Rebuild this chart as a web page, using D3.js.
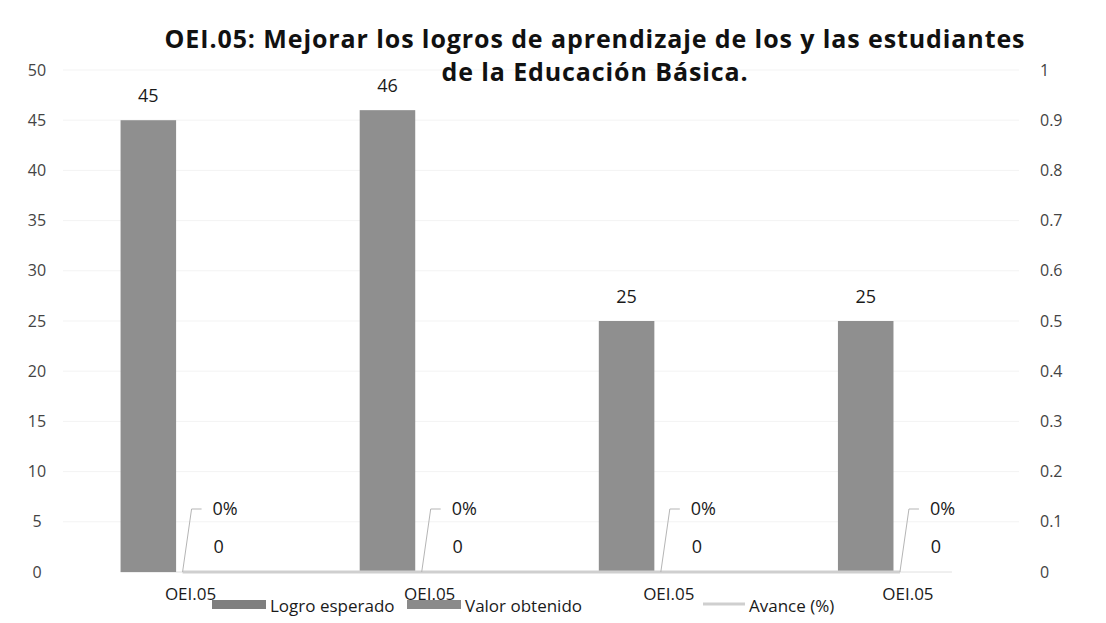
<!DOCTYPE html>
<html>
<head>
<meta charset="utf-8">
<script src="https://cdn.jsdelivr.net/npm/d3@7"></script>
<style>
  body { margin: 0; background: #fff; }
  svg { font-family: "Open Sans", sans-serif; }
  .axis path, .axis line { display: none; }
  .axis text { font-size: 16px; fill: #444; }
</style>
</head>
<body>
<div id="chart"></div>
<script>
/* DATA */
const categories = ["OEI.05", "OEI.05", "OEI.05", "OEI.05"];
const seriesNames = ["Logro esperado", "Valor obtenido"];
const logroEsperado = [45, 46, 25, 25];
const valorObtenido = [0, 0, 0, 0];
const avance = [0, 0, 0, 0];
const leftTicks = [0, 5, 10, 15, 20, 25, 30, 35, 40, 45, 50];
const rightTicks = [0, 0.1, 0.2, 0.3, 0.4, 0.5, 0.6, 0.7, 0.8, 0.9, 1];
const titleLines = [
  "OEI.05: Mejorar los logros de aprendizaje de los y las estudiantes",
  "de la Educación Básica."
];

/* CONSTANTS */
const width = 1106,
  height = 623,
  margin = { top: 70, bottom: 51, left: 63, right: 87 };

const barColor = "#8f8f8f",
  lineColor = "#cfcfcf";

const svg = d3
  .select("#chart")
  .append("svg")
  .attr("width", width)
  .attr("height", height);

const idx = categories.map((d, i) => i);

const x0 = d3
  .scaleBand()
  .domain(idx)
  .range([margin.left, width - margin.right + 0.5])
  .padding(0);

// position of each series inside a category, relative to its centre
const x1 = d3
  .scaleBand()
  .domain(seriesNames)
  .range([-62, 52])
  .paddingInner(0.05);

const yLeft = d3
  .scaleLinear()
  .domain([0, 50])
  .range([height - margin.bottom, margin.top]);

const yRight = d3
  .scaleLinear()
  .domain([0, 1])
  .range([height - margin.bottom, margin.top]);

const cx = i => x0(i) + x0.bandwidth() / 2;

// faint gridlines
svg
  .append("g")
  .selectAll("line")
  .data(leftTicks.slice(1))
  .join("line")
  .attr("x1", margin.left)
  .attr("x2", width - margin.right)
  .attr("y1", d => yLeft(d))
  .attr("y2", d => yLeft(d))
  .attr("stroke", "#f3f3f3");

// axes
svg
  .append("g")
  .attr("class", "axis y-left")
  .attr("transform", "translate(46,0)")
  .call(d3.axisLeft(yLeft).tickValues(leftTicks).tickSize(0).tickPadding(0))
  .attr("font-size", null)
  .attr("font-family", null)
  .selectAll("text")
  .attr("text-anchor", "middle")
  .attr("x", -9);

svg
  .append("g")
  .attr("class", "axis y-right")
  .attr("transform", "translate(1040,0)")
  .call(
    d3.axisRight(yRight).tickValues(rightTicks).tickSize(0).tickPadding(0)
      .tickFormat(d => (d === 0 || d === 1 ? d3.format("d")(d) : d3.format(".1f")(d)))
  )
  .attr("font-size", null)
  .attr("font-family", null);

// baseline
svg
  .append("line")
  .attr("x1", cx(0) - 62)
  .attr("x2", cx(3) + 52)
  .attr("y1", yLeft(0))
  .attr("y2", yLeft(0))
  .attr("stroke", "#e0e0e0");

// bars
const barData = [];
idx.forEach(i => {
  barData.push({ i, key: seriesNames[0], value: logroEsperado[i] });
  barData.push({ i, key: seriesNames[1], value: valorObtenido[i] });
});

svg
  .append("g")
  .selectAll("rect")
  .data(barData)
  .join("rect")
  .attr("x", d => cx(d.i) + x1(d.key))
  .attr("width", x1.bandwidth())
  .attr("y", d => yLeft(d.value))
  .attr("height", d => yLeft(0) - yLeft(d.value))
  .attr("fill", barColor);

// bar labels
svg
  .append("g")
  .selectAll("text")
  .data(barData)
  .join("text")
  .attr("x", d => d.key === seriesNames[0]
    ? cx(d.i) + x1(d.key) + x1.bandwidth() / 2
    : cx(d.i) + 36)
  .attr("y", d => d.key === seriesNames[0] ? yLeft(d.value) - 18 : yLeft(d.value) - 19)
  .attr("text-anchor", "middle")
  .attr("font-size", 18)
  .attr("fill", "#1a1a1a")
  .text(d => d.value);

// avance line on secondary axis
const lineFunc = d3
  .line()
  .x((d, i) => cx(i))
  .y(d => yRight(d));

svg
  .append("path")
  .datum(avance)
  .attr("d", lineFunc)
  .attr("fill", "none")
  .attr("stroke", lineColor)
  .attr("stroke-width", 3);

// leader lines + % labels
const pctG = svg.append("g");
avance.forEach((v, i) => {
  const x = cx(i),
    y = yRight(v),
    ly = y - 63;
  pctG
    .append("polyline")
    .attr("points", `${x},${y} ${x + 9},${ly} ${x + 19},${ly}`)
    .attr("fill", "none")
    .attr("stroke", "#b5b5b5")
    .attr("stroke-width", 1);
  pctG
    .append("text")
    .attr("x", x + 30)
    .attr("y", ly + 6)
    .attr("font-size", 18)
    .attr("fill", "#1a1a1a")
    .text(d3.format(".0%")(v));
});

// category labels
svg
  .append("g")
  .selectAll("text")
  .data(idx)
  .join("text")
  .attr("x", i => cx(i) + 8)
  .attr("y", 600)
  .attr("text-anchor", "middle")
  .attr("font-size", 17)
  .attr("fill", "#1a1a1a")
  .text(i => categories[i]);

// legend
const legendItems = [
  { name: seriesNames[0], type: "rect", x: 212, color: "#7f7f7f" },
  { name: seriesNames[1], type: "rect", x: 407, color: "#8a8a8a" },
  { name: "Avance (%)", type: "line", x: 703, color: lineColor }
];
const legend = svg.append("g");
legendItems.forEach(d => {
  if (d.type === "rect") {
    legend.append("rect")
      .attr("x", d.x).attr("y", 600).attr("width", 54).attr("height", 9)
      .attr("fill", d.color);
  } else {
    legend.append("line")
      .attr("x1", d.x).attr("x2", d.x + 42).attr("y1", 604).attr("y2", 604)
      .attr("stroke", d.color).attr("stroke-width", 3);
  }
  legend.append("text")
    .attr("x", d.x + (d.type === "rect" ? 58 : 46))
    .attr("y", 612)
    .attr("font-size", 17)
    .attr("fill", "#1a1a1a")
    .text(d.name);
});

// title
svg
  .append("g")
  .selectAll("text")
  .data(titleLines)
  .join("text")
  .attr("x", 595)
  .attr("y", (d, i) => 48 + i * 33)
  .attr("text-anchor", "middle")
  .attr("font-size", 25)
  .attr("letter-spacing", 0.9)
  .attr("font-weight", "bold")
  .attr("fill", "#111")
  .text(d => d);
</script>
</body>
</html>
